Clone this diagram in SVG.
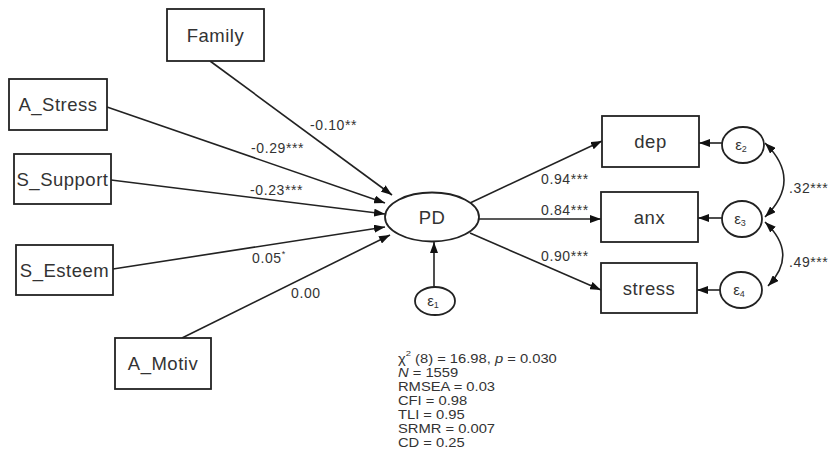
<svg xmlns="http://www.w3.org/2000/svg" width="828" height="475" viewBox="0 0 828 475">
<style>
  .box{fill:#fff;stroke:#222;stroke-width:1.8}
  .lbl{font-family:"Liberation Sans",Arial,sans-serif;font-size:18.5px;letter-spacing:0.5px;fill:#333;text-anchor:middle}
  .eps{font-family:"Liberation Sans",Arial,sans-serif;font-size:15px;fill:#333;text-anchor:middle}
  .ed{font-family:"Liberation Sans",Arial,sans-serif;font-size:14px;letter-spacing:0.6px;fill:#333}
  .st{font-family:"Liberation Sans",Arial,sans-serif;font-size:12.5px;fill:#333}
  .c{fill:none;stroke:#222;stroke-width:1.6}
</style>
<defs>
  <marker id="ah" markerUnits="userSpaceOnUse" markerWidth="11" markerHeight="8" refX="11" refY="4" orient="auto-start-reverse">
    <path d="M0,0 L11,4 L0,8 z" fill="#111"/>
  </marker>
</defs>
<rect width="828" height="475" fill="#fff"/>
<g id="connectors">
  <line class="c" x1="210" y1="61" x2="392" y2="195" marker-end="url(#ah)"/>
  <line class="c" x1="107" y1="107" x2="385" y2="203" marker-end="url(#ah)"/>
  <line class="c" x1="111" y1="180" x2="385" y2="214" marker-end="url(#ah)"/>
  <line class="c" x1="113" y1="269" x2="385" y2="227" marker-end="url(#ah)"/>
  <line class="c" x1="182" y1="338" x2="390" y2="235" marker-end="url(#ah)"/>
  <line class="c" x1="434" y1="287" x2="434" y2="242" marker-end="url(#ah)"/>
  <line class="c" x1="470" y1="203" x2="602" y2="141" marker-end="url(#ah)"/>
  <line class="c" x1="479" y1="219" x2="601" y2="219" marker-end="url(#ah)"/>
  <line class="c" x1="470" y1="233" x2="601" y2="290" marker-end="url(#ah)"/>
  <line class="c" x1="722" y1="143" x2="699" y2="143" marker-end="url(#ah)"/>
  <line class="c" x1="722" y1="218" x2="698" y2="218" marker-end="url(#ah)"/>
  <line class="c" x1="720" y1="290" x2="697" y2="290" marker-end="url(#ah)"/>
  <path class="c" d="M765,143 Q803,180 765,217" marker-start="url(#ah)" marker-end="url(#ah)"/>
  <path class="c" d="M765,222 Q799,254 768,286" marker-start="url(#ah)" marker-end="url(#ah)"/>
  <text class="ed" x="310" y="130">-0.10**</text>
  <text class="ed" x="251" y="153">-0.29***</text>
  <text class="ed" x="250" y="195">-0.23***</text>
  <text class="ed" x="252" y="263">0.05<tspan font-size="9" dy="-6">*</tspan></text>
  <text class="ed" x="291" y="298">0.00</text>
  <text class="ed" x="541" y="184">0.94***</text>
  <text class="ed" x="541" y="215">0.84***</text>
  <text class="ed" x="541" y="261">0.90***</text>
  <text class="ed" x="789" y="193">.32***</text>
  <text class="ed" x="789" y="267">.49***</text>
</g>
<g id="Family"><rect class="box" x="167" y="9" width="97" height="52"/><text class="lbl" x="215.5" y="42">Family</text></g>
<g id="A_Stress"><rect class="box" x="9" y="79" width="98" height="51"/><text class="lbl" x="58" y="111">A_Stress</text></g>
<g id="S_Support"><rect class="box" x="14" y="154" width="97" height="50"/><text class="lbl" x="62.5" y="186">S_Support</text></g>
<g id="S_Esteem"><rect class="box" x="16" y="245" width="97" height="50"/><text class="lbl" x="64.5" y="277">S_Esteem</text></g>
<g id="A_Motiv"><rect class="box" x="115" y="338" width="96" height="51"/><text class="lbl" x="163" y="370">A_Motiv</text></g>
<g id="PD"><ellipse class="box" cx="432" cy="217" rx="47" ry="24.5"/><text class="lbl" x="432" y="224">PD</text></g>
<g id="e1"><ellipse class="box" cx="435" cy="301" rx="20" ry="14"/><text class="eps" x="433" y="306">ε<tspan font-size="9" dy="2">1</tspan></text></g>
<g id="dep"><rect class="box" x="602" y="116" width="97" height="51"/><text class="lbl" x="650.5" y="148">dep</text></g>
<g id="anx"><rect class="box" x="601" y="192" width="97" height="50"/><text class="lbl" x="649.5" y="224">anx</text></g>
<g id="stress"><rect class="box" x="601" y="263" width="96" height="50"/><text class="lbl" x="649" y="295">stress</text></g>
<g id="e2"><ellipse class="box" cx="743" cy="145" rx="21" ry="18"/><text class="eps" x="741" y="150">ε<tspan font-size="9" dy="2">2</tspan></text></g>
<g id="e3"><ellipse class="box" cx="742" cy="219" rx="20" ry="18"/><text class="eps" x="740" y="224">ε<tspan font-size="9" dy="2">3</tspan></text></g>
<g id="e4"><ellipse class="box" cx="741" cy="290" rx="21" ry="18"/><text class="eps" x="739" y="295">ε<tspan font-size="9" dy="2">4</tspan></text></g>
<g id="stats" transform="translate(398,0) scale(1.18,1) translate(-398,0)">
  <text class="st" x="398" y="363">χ<tspan font-size="8" dy="-7">2</tspan><tspan dy="7"> (8) = 16.98, </tspan><tspan font-style="italic">p</tspan> = 0.030</text>
  <text class="st" x="398" y="377"><tspan font-style="italic">N</tspan> = 1559</text>
  <text class="st" x="398" y="391">RMSEA = 0.03</text>
  <text class="st" x="398" y="405">CFI = 0.98</text>
  <text class="st" x="398" y="419">TLI = 0.95</text>
  <text class="st" x="398" y="433">SRMR = 0.007</text>
  <text class="st" x="398" y="447">CD = 0.25</text>
</g>
</svg>
